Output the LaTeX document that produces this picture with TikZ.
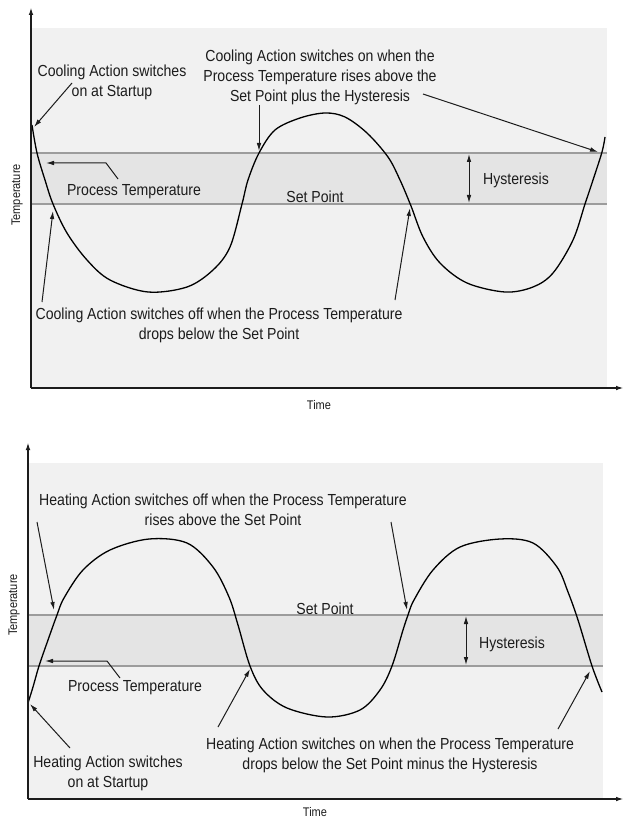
\documentclass[tikz,border=0pt]{standalone}
\usepackage{fontspec}
\setmainfont{Liberation Sans}[FakeStretch=0.88]
\usetikzlibrary{arrows.meta}

\definecolor{panelgray}{HTML}{F1F1F1}
\definecolor{bandgray}{HTML}{E4E4E4}
\definecolor{linegray}{HTML}{9C9C9C}
\definecolor{inkgray}{HTML}{1C1C1C}

\begin{document}
\begin{tikzpicture}[
		x=1pt, y=-1pt,
		>={Latex[length=8pt,width=4.6pt]},
		axis/.style={->, line width=1.7pt, inkgray},
		bandline/.style={line width=1.4pt, linegray},
		wave/.style={line width=1.3pt, black},
		arr/.style={->, line width=1pt, inkgray},
		note/.style={align=center, inner sep=0pt, text=inkgray, font=\fontsize{16}{20}\selectfont},
		axlabel/.style={inner sep=0pt, text=inkgray, font=\fontsize{12.5}{14}\selectfont},
	]
	\useasboundingbox (0,0) rectangle (627,818);

	% ---------- cooling chart ----------
	\fill[panelgray] (31,28) rectangle (607,388);
	\fill[bandgray] (31,153) rectangle (607,204);
	\draw[bandline] (31,153) -- (607,153);
	\draw[bandline] (31,204) -- (607,204);

	\draw[wave] plot[smooth, tension=0.55] coordinates {
		(32,125) (37,153) (45,180) (53,204) (67,233) (87,260) (110,280) (148,292)
		(187,287) (213,270) (230,247) (242,204) (248,180) (259,153) (275,130)
		(300,118) (325,113) (345,117) (367,133) (388,157) (400,180) (411,206)
		(423,237) (440,263) (467,283) (505,292) (533,287) (553,273) (573,240)
		(585,204) (593,180) (602,152) (605,137)};

	\coordinate (o1) at (31,388);
	\coordinate (ytop1) at (31,7);
	\coordinate (xend1) at (624,388);
	\draw[axis] (o1) -- (ytop1);
	\draw[axis] (o1) -- (xend1);

	\node[axlabel, rotate=90] (temp1) at (17,195) {Temperature};
	\node[axlabel] (time1) at (319,405) {Time};

	\node[note] (startup1) at (112,82) {Cooling Action switches\\on at Startup};
	\node[note] (coolon) at (320,77) {Cooling Action switches on when the\\Process Temperature rises above the\\Set Point plus the Hysteresis};
	\node[note] (pt1) at (134,192) {Process Temperature};
	\node[note] (sp1) at (315,197) {Set Point};
	\node[note] (hyst1) at (516,180) {Hysteresis};
	\node[note] (cooloff) at (219,325) {Cooling Action switches off when the Process Temperature\\drops below the Set Point};

	% arrow ends on the curve
	\coordinate (s1a) at (72,83);   \coordinate (s1b) at (34,127);
	\coordinate (c1a) at (259,105); \coordinate (c1b) at (259,151);
	\coordinate (c2a) at (423,94);  \coordinate (c2b) at (598,152);
	\coordinate (p1a) at (118,179); \coordinate (p1k) at (106,163); \coordinate (p1b) at (46,163);
	\coordinate (h1a) at (469,154); \coordinate (h1b) at (469,203);
	\coordinate (f1a) at (42,302);  \coordinate (f1b) at (53,211);
	\coordinate (f2a) at (395,300); \coordinate (f2b) at (410,208);

	\draw[arr] (s1a) -- (s1b);
	\draw[arr] (c1a) -- (c1b);
	\draw[arr] (c2a) -- (c2b);
	\draw[arr] (p1a) -- (p1k) -- (p1b);
	\draw[arr, <->] (h1a) -- (h1b);
	\draw[arr] (f1a) -- (f1b);
	\draw[arr] (f2a) -- (f2b);

	% ---------- heating chart ----------
	\fill[panelgray] (28,463) rectangle (603,799);
	\fill[bandgray] (28,615) rectangle (603,666);
	\draw[bandline] (28,615) -- (603,615);
	\draw[bandline] (28,666) -- (603,666);

	\draw[wave] plot[smooth, tension=0.55] coordinates {
		(28,703) (33,687) (39,666) (48,640) (57,615) (64,598) (83,570) (110,550)
		(149,539) (187,543) (213,567) (229,597) (238,625) (250,666) (263,690)
		(287,708) (327,717) (360,710) (380,690) (392,666) (403,630) (408,615)
		(414,600) (433,570) (460,547) (500,539) (533,543) (557,567) (568,592)
		(578,620) (592,666) (602,692)};

	\coordinate (o2) at (28,799);
	\coordinate (ytop2) at (28,442);
	\coordinate (xend2) at (624,799);
	\draw[axis] (o2) -- (ytop2);
	\draw[axis] (o2) -- (xend2);

	\node[axlabel, rotate=90] (temp2) at (14,605) {Temperature};
	\node[axlabel] (time2) at (315,812) {Time};

	\node[note] (heatoff) at (223,510) {Heating Action switches off when the Process Temperature\\rises above the Set Point};
	\node[note] (sp2) at (325,609) {Set Point};
	\node[note] (hyst2) at (512,644) {Hysteresis};
	\node[note] (pt2) at (135,688) {Process Temperature};
	\node[note] (heaton) at (390,755) {Heating Action switches on when the Process Temperature\\drops below the Set Point minus the Hysteresis};
	\node[note] (startup2) at (108,773) {Heating Action switches\\on at Startup};

	% arrow ends on the curve
	\coordinate (g1a) at (37,522);  \coordinate (g1b) at (54,610);
	\coordinate (g2a) at (391,522); \coordinate (g2b) at (407,610);
	\coordinate (p2a) at (120,678); \coordinate (p2k) at (107,661); \coordinate (p2b) at (45,661);
	\coordinate (h2a) at (466,616); \coordinate (h2b) at (466,665);
	\coordinate (n1a) at (218,727); \coordinate (n1b) at (250,669);
	\coordinate (n2a) at (558,729); \coordinate (n2b) at (590,671);
	\coordinate (s2a) at (70,748);  \coordinate (s2b) at (30,704);

	\draw[arr] (g1a) -- (g1b);
	\draw[arr] (g2a) -- (g2b);
	\draw[arr] (p2a) -- (p2k) -- (p2b);
	\draw[arr, <->] (h2a) -- (h2b);
	\draw[arr] (n1a) -- (n1b);
	\draw[arr] (n2a) -- (n2b);
	\draw[arr] (s2a) -- (s2b);
\end{tikzpicture}
\end{document}
